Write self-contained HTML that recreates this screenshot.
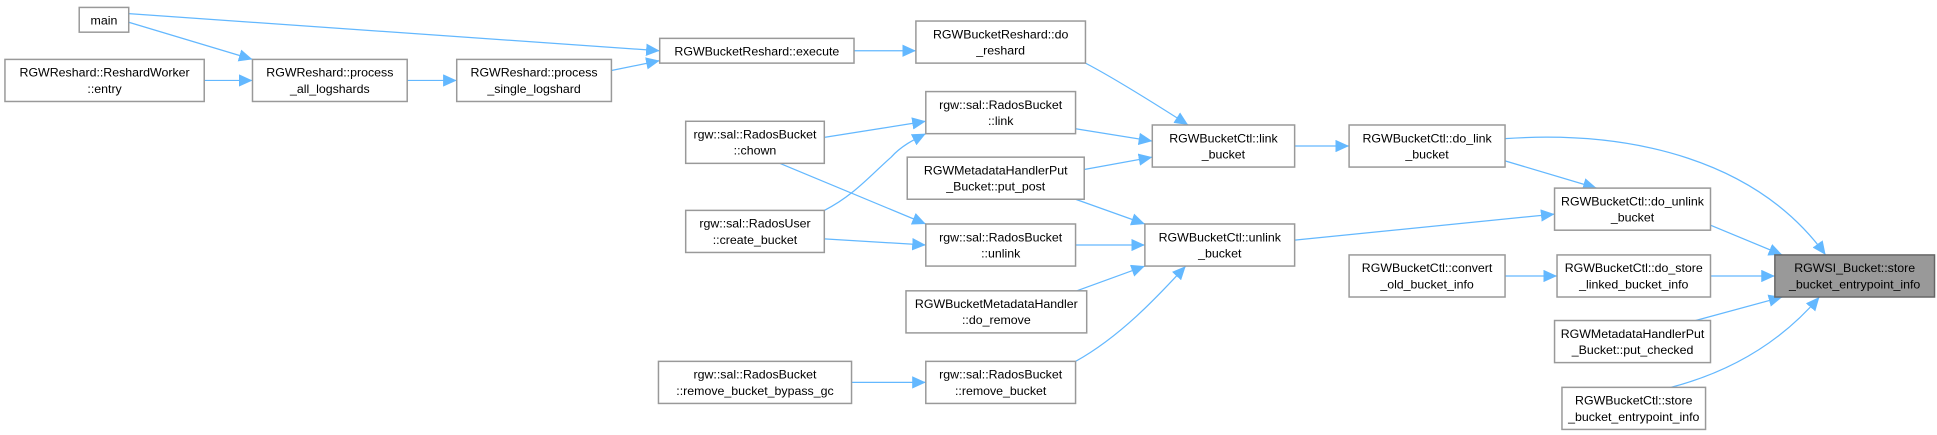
<!DOCTYPE html>
<html><head><meta charset="utf-8"><style>
html,body{margin:0;padding:0;background:#fff;}
svg{display:block;}
text{font-family:"Liberation Sans",Arial,sans-serif;font-size:10px;fill:#000;text-anchor:middle;}
.n{fill:#fff;stroke:#999;stroke-width:1.2;}
.e{fill:none;stroke:#63b8ff;stroke-width:1;}
</style></head><body>
<svg width="1937" height="435" viewBox="0 0 1565 351.5" preserveAspectRatio="none">
<defs><marker id="a" markerUnits="userSpaceOnUse" markerWidth="12" markerHeight="10" refX="11" refY="5" orient="auto"><path d="M0,0 L11,5 L0,10 z" fill="#63b8ff"/></marker></defs>
<g class="edges">
<path class="e" marker-end="url(#a)" d="M104,11 L533,41"/>
<path class="e" marker-end="url(#a)" d="M104,18 L204,48"/>
<path class="e" marker-end="url(#a)" d="M165,65 L204,65"/>
<path class="e" marker-end="url(#a)" d="M329,65 L369,65"/>
<path class="e" marker-end="url(#a)" d="M494,57 L533,49"/>
<path class="e" marker-end="url(#a)" d="M690,41 L740,41"/>
<path class="e" marker-end="url(#a)" d="M877,51 C900,63 935,85 960,101"/>
<path class="e" marker-end="url(#a)" d="M869,104 L931,114"/>
<path class="e" marker-end="url(#a)" d="M876,137 L931,127"/>
<path class="e" marker-end="url(#a)" d="M666,111 L748,98"/>
<path class="e" marker-end="url(#a)" d="M666,170 C690,158 705,140 720,127 C728,118 738,113 748,108"/>
<path class="e" marker-end="url(#a)" d="M630,132 L748,181"/>
<path class="e" marker-end="url(#a)" d="M666,193 L748,198"/>
<path class="e" marker-end="url(#a)" d="M869,161 L925,181"/>
<path class="e" marker-end="url(#a)" d="M869,198 L925,198"/>
<path class="e" marker-end="url(#a)" d="M870,235 L925,215"/>
<path class="e" marker-end="url(#a)" d="M869,292 C905,272 935,240 958,215"/>
<path class="e" marker-end="url(#a)" d="M688,309 L748,309"/>
<path class="e" marker-end="url(#a)" d="M1046,118 L1090,118"/>
<path class="e" marker-end="url(#a)" d="M1046,194 L1256,173"/>
<path class="e" marker-end="url(#a)" d="M1216,130 L1290,152"/>
<path class="e" marker-end="url(#a)" d="M1216,112 C1320,105 1420,130 1475,206"/>
<path class="e" marker-end="url(#a)" d="M1382,182 L1440,206"/>
<path class="e" marker-end="url(#a)" d="M1216,223 L1258,223"/>
<path class="e" marker-end="url(#a)" d="M1382,223 L1434,223"/>
<path class="e" marker-end="url(#a)" d="M1370,259 L1440,240"/>
<path class="e" marker-end="url(#a)" d="M1350,313 C1400,300 1440,275 1470,240"/>
</g>
<g>
<rect class="n" x="64" y="6" width="40" height="20"/><text x="84" y="20">main</text>
<rect class="n" x="4" y="48" width="161" height="34"/><text x="84.5" y="62">RGWReshard::ReshardWorker</text><text x="84.5" y="75">::entry</text>
<rect class="n" x="204" y="48" width="125" height="34"/><text x="266.5" y="62">RGWReshard::process</text><text x="266.5" y="75">_all_logshards</text>
<rect class="n" x="369" y="48" width="125" height="34"/><text x="431.5" y="62">RGWReshard::process</text><text x="431.5" y="75">_single_logshard</text>
<rect class="n" x="533" y="31" width="157" height="20"/><text x="611.5" y="45">RGWBucketReshard::execute</text>
<rect class="n" x="740" y="17" width="137" height="34"/><text x="808.5" y="31">RGWBucketReshard::do</text><text x="808.5" y="44">_reshard</text>
<rect class="n" x="748" y="74" width="121" height="34"/><text x="808.5" y="88">rgw::sal::RadosBucket</text><text x="808.5" y="101">::link</text>
<rect class="n" x="733" y="127" width="143" height="34"/><text x="804.5" y="141">RGWMetadataHandlerPut</text><text x="804.5" y="154">_Bucket::put_post</text>
<rect class="n" x="748" y="181" width="121" height="34"/><text x="808.5" y="195">rgw::sal::RadosBucket</text><text x="808.5" y="208">::unlink</text>
<rect class="n" x="732" y="235" width="146" height="34"/><text x="805" y="249">RGWBucketMetadataHandler</text><text x="805" y="262">::do_remove</text>
<rect class="n" x="748" y="292" width="121" height="34"/><text x="808.5" y="306">rgw::sal::RadosBucket</text><text x="808.5" y="319">::remove_bucket</text>
<rect class="n" x="554" y="98" width="112" height="34"/><text x="610" y="112">rgw::sal::RadosBucket</text><text x="610" y="125">::chown</text>
<rect class="n" x="554" y="170" width="112" height="34"/><text x="610" y="184">rgw::sal::RadosUser</text><text x="610" y="197">::create_bucket</text>
<rect class="n" x="532" y="292" width="156" height="34"/><text x="610" y="306">rgw::sal::RadosBucket</text><text x="610" y="319">::remove_bucket_bypass_gc</text>
<rect class="n" x="931" y="101" width="115" height="34"/><text x="988.5" y="115">RGWBucketCtl::link</text><text x="988.5" y="128">_bucket</text>
<rect class="n" x="925" y="181" width="121" height="34"/><text x="985.5" y="195">RGWBucketCtl::unlink</text><text x="985.5" y="208">_bucket</text>
<rect class="n" x="1090" y="101" width="126" height="34"/><text x="1153" y="115">RGWBucketCtl::do_link</text><text x="1153" y="128">_bucket</text>
<rect class="n" x="1256" y="152" width="126" height="34"/><text x="1319" y="166">RGWBucketCtl::do_unlink</text><text x="1319" y="179">_bucket</text>
<rect class="n" x="1090" y="206" width="126" height="34"/><text x="1153" y="220">RGWBucketCtl::convert</text><text x="1153" y="233">_old_bucket_info</text>
<rect class="n" x="1258" y="206" width="124" height="34"/><text x="1320" y="220">RGWBucketCtl::do_store</text><text x="1320" y="233">_linked_bucket_info</text>
<rect class="n" x="1256" y="259" width="126" height="34"/><text x="1319" y="273">RGWMetadataHandlerPut</text><text x="1319" y="286">_Bucket::put_checked</text>
<rect class="n" x="1262" y="313" width="116" height="34"/><text x="1320" y="327">RGWBucketCtl::store</text><text x="1320" y="340">_bucket_entrypoint_info</text>
<rect x="1434" y="206" width="129" height="34" fill="#999" stroke="#666" stroke-width="1.2"/><text x="1498.5" y="220">RGWSI_Bucket::store</text><text x="1498.5" y="233">_bucket_entrypoint_info</text>
</g>
</svg>
</body></html>
